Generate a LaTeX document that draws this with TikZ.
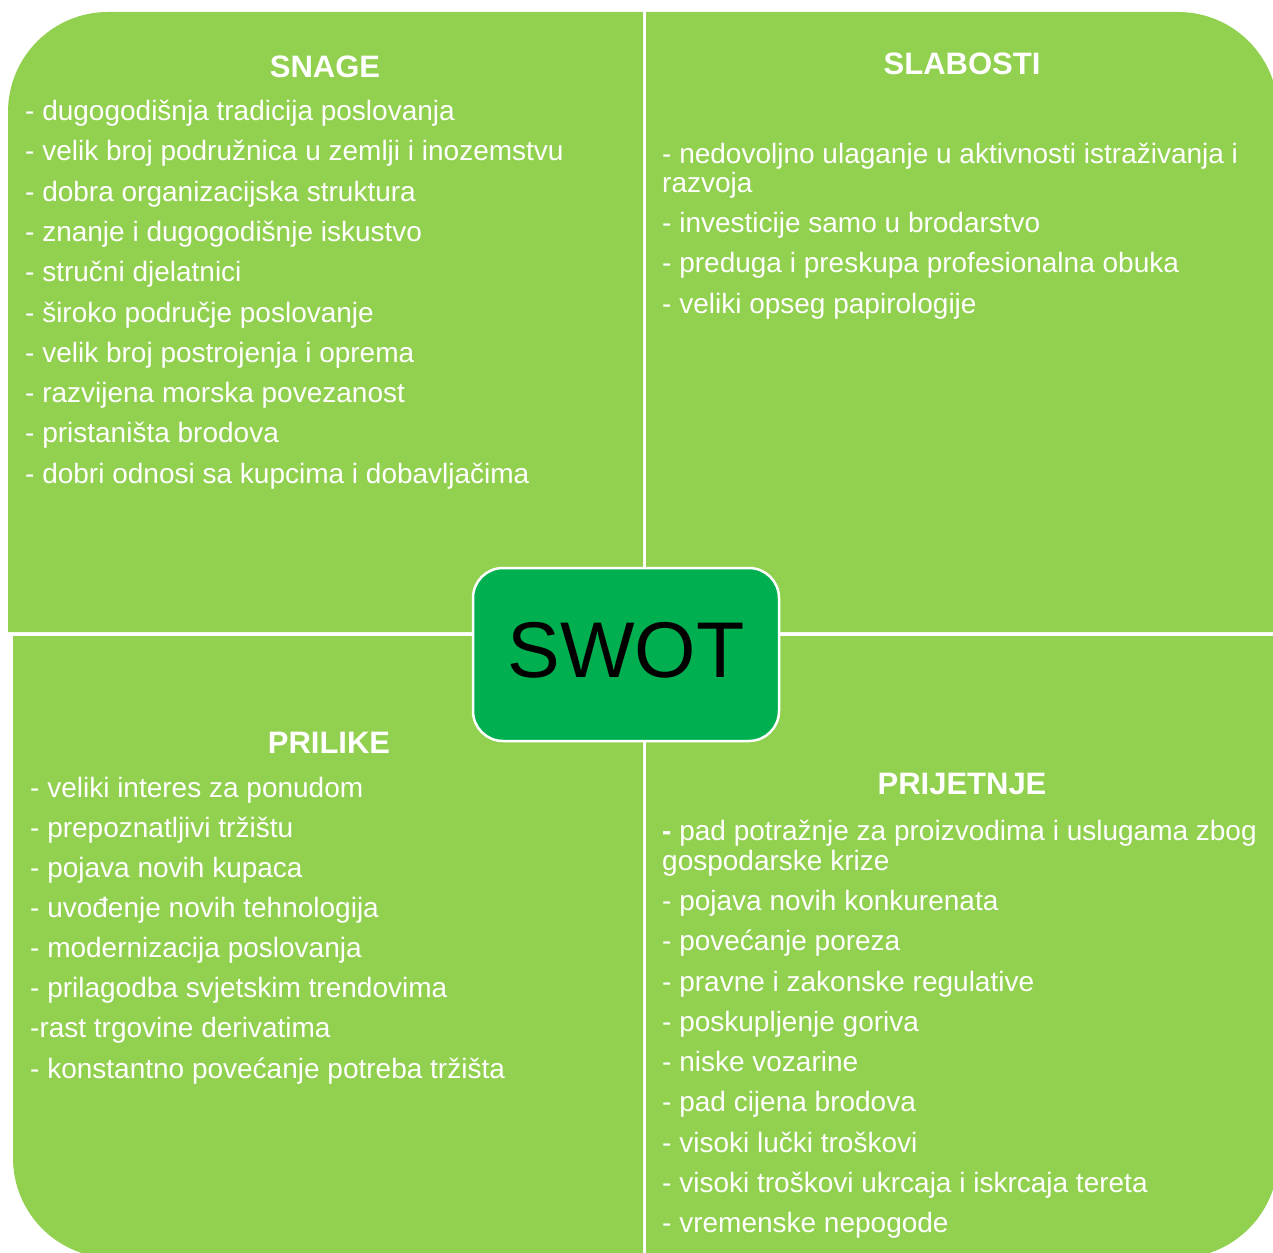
\documentclass[tikz,border=0pt]{standalone}
\usepackage{fontspec}
\setmainfont{Liberation Sans}
\definecolor{quadgreen}{HTML}{92D050}
\definecolor{swotgreen}{HTML}{00B050}
\begin{document}
\begin{tikzpicture}[x=1pt,y=-1pt,
  quad/.style={fill=quadgreen},
  headtext/.style={anchor=base,text=white,inner sep=0pt,font=\bfseries\fontsize{31}{36}\selectfont},
  itemtext/.style={anchor=base west,text=white,inner sep=0pt,font=\fontsize{28}{33}\selectfont},
  swotbox/.style={draw=white,line width=2.5pt,fill=swotgreen,rounded corners=30pt,
    minimum width=306pt,minimum height=173pt,inner sep=0pt,text=black,
    text depth=9pt,font=\fontsize{79}{90}\selectfont}]
\useasboundingbox (0,0) rectangle (1273,1252);
\clip (0,0) rectangle (1273,1252);
% quadrants
\fill[quad] (643,632) -- (8,632) -- (8,112) arc[start angle=180,end angle=270,radius=100] -- (643,12) -- cycle;
\fill[quad] (646,632) -- (646,12) -- (1178,12) arc[start angle=270,end angle=360,radius=100] -- (1278,632) -- cycle;
\fill[quad] (643,636) -- (13,636) -- (13,1158) arc[start angle=180,end angle=90,radius=100] -- (643,1258) -- cycle;
\fill[quad] (646,636) -- (1278,636) -- (1278,1158) arc[start angle=0,end angle=90,radius=100] -- (646,1258) -- cycle;
% SNAGE
\node[headtext] (hS) at (325,77.5) {SNAGE};
\node[itemtext] (s1) at (25,120.5) {- dugogodišnja tradicija poslovanja};
\node[itemtext] (s2) at (25,160.8) {- velik broj podružnica u zemlji i inozemstvu};
\node[itemtext] (s3) at (25,201.1) {- dobra organizacijska struktura};
\node[itemtext] (s4) at (25,241.4) {- znanje i dugogodišnje iskustvo};
\node[itemtext] (s5) at (25,281.7) {- stručni djelatnici};
\node[itemtext] (s6) at (25,322) {- široko područje poslovanje};
\node[itemtext] (s7) at (25,362.3) {- velik broj postrojenja i oprema};
\node[itemtext] (s8) at (25,402.6) {- razvijena morska povezanost};
\node[itemtext] (s9) at (25,442.9) {- pristaništa brodova};
\node[itemtext] (s10) at (25,483.2) {- dobri odnosi sa kupcima i dobavljačima};
% SLABOSTI
\node[headtext] (hW) at (962,75) {SLABOSTI};
\node[itemtext] (w1) at (662,163.5) {- nedovoljno ulaganje u aktivnosti istraživanja i};
\node[itemtext] (w1b) at (662,192.5) {razvoja};
\node[itemtext] (w2) at (662,232.5) {- investicije samo u brodarstvo};
\node[itemtext] (w3) at (662,272.5) {- preduga i preskupa profesionalna obuka};
\node[itemtext] (w4) at (662,313.5) {- veliki opseg papirologije};
% PRILIKE
\node[headtext] (hO) at (329,753) {PRILIKE};
\node[itemtext] (o1) at (30,797.5) {- veliki interes za ponudom};
\node[itemtext] (o2) at (30,837.5) {- prepoznatljivi tržištu};
\node[itemtext] (o3) at (30,877.5) {- pojava novih kupaca};
\node[itemtext] (o4) at (30,917.5) {- uvođenje novih tehnologija};
\node[itemtext] (o5) at (30,957.5) {- modernizacija poslovanja};
\node[itemtext] (o6) at (30,997.5) {- prilagodba svjetskim trendovima};
\node[itemtext] (o7) at (30,1037.5) {-rast trgovine derivatima};
\node[itemtext] (o8) at (30,1078.5) {- konstantno povećanje potreba tržišta};
% PRIJETNJE
\node[headtext] (hT) at (962,794) {PRIJETNJE};
\node[itemtext] (t1) at (662,840.5) {{\bfseries -} pad potražnje za proizvodima i uslugama zbog};
\node[itemtext] (t1b) at (662,870.5) {gospodarske krize};
\node[itemtext] (t2) at (662,910.5) {- pojava novih konkurenata};
\node[itemtext] (t3) at (662,950.5) {- povećanje poreza};
\node[itemtext] (t4) at (662,991.5) {- pravne i zakonske regulative};
\node[itemtext] (t5) at (662,1031.5) {- poskupljenje goriva};
\node[itemtext] (t6) at (662,1071.5) {- niske vozarine};
\node[itemtext] (t7) at (662,1111.5) {- pad cijena brodova};
\node[itemtext] (t8) at (662,1152.5) {- visoki lučki troškovi};
\node[itemtext] (t9) at (662,1192.5) {- visoki troškovi ukrcaja i iskrcaja tereta};
\node[itemtext] (t10) at (662,1232.5) {- vremenske nepogode};
% centre
\node[swotbox] (swot) at (626,654.5) {SWOT};
\end{tikzpicture}
\end{document}
